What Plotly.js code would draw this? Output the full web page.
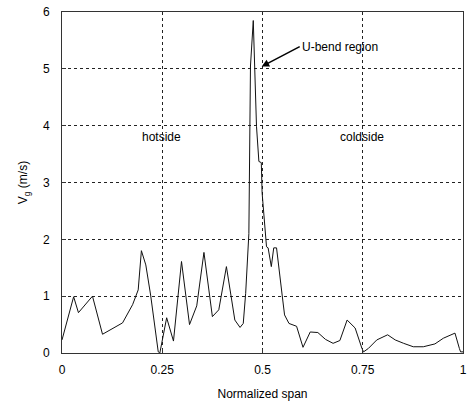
<!DOCTYPE html>
<html>
<head>
<meta charset="utf-8">
<script src="https://cdn.plot.ly/plotly-3.0.1.min.js"></script>
<style>html,body{margin:0;padding:0;background:#fff;}#chart{width:470px;height:401px;}</style>
</head>
<body>
<div id="chart"></div>
<script>
const span = [0, 0.029, 0.041, 0.076, 0.101, 0.151, 0.176, 0.19, 0.198, 0.209, 0.221, 0.24, 0.244,
  0.261, 0.278, 0.298, 0.318, 0.336, 0.354, 0.375, 0.391, 0.41, 0.431, 0.444, 0.452, 0.458, 0.466,
  0.47, 0.477, 0.48, 0.485, 0.491, 0.497, 0.499, 0.503, 0.51, 0.514, 0.522, 0.528, 0.535, 0.549,
  0.555, 0.566, 0.585, 0.601, 0.619, 0.638, 0.657, 0.676, 0.693, 0.711, 0.731, 0.748, 0.752, 0.764,
  0.785, 0.812, 0.831, 0.852, 0.876, 0.901, 0.93, 0.951, 0.98, 0.991, 0.994, 1.0];
const vg = [0.23, 0.99, 0.71, 1.0, 0.33, 0.53, 0.85, 1.11, 1.80, 1.55, 1.02, 0.02, 0.0,
  0.62, 0.21, 1.61, 0.50, 0.83, 1.77, 0.64, 0.76, 1.52, 0.58, 0.45, 0.52, 1.05, 2.1,
  5.05, 5.85, 5.11, 3.99, 3.37, 3.35, 2.82, 2.46, 1.87, 1.85, 1.52, 1.85, 1.85, 1.02,
  0.67, 0.52, 0.47, 0.10, 0.37, 0.36, 0.24, 0.17, 0.22, 0.58, 0.44, 0.08, 0.02, 0.08,
  0.23, 0.32, 0.23, 0.17, 0.11, 0.11, 0.16, 0.26, 0.35, 0.08, 0.02, 0.02];
const xTicks = [0, 0.25, 0.5, 0.75, 1];
const xTickText = ['0', '0.25', '0.5', '0.75', '1'];
const yTicks = [0, 1, 2, 3, 4, 5, 6];
const regionLabels = ['hotside', 'coldside'];
const regionX = [0.249, 0.749];
const regionY = [3.8, 3.8];

const font = {family: 'Liberation Sans, Arial, sans-serif', size: 12, color: '#000'};
const annotations = regionLabels.map((t, i) => ({
  x: regionX[i], y: regionY[i], xref: 'x', yref: 'y', text: t, showarrow: false,
  font: font, xanchor: 'center', yanchor: 'middle'
}));
annotations.push({
  x: 0.498, y: 5.04, xref: 'x', yref: 'y', text: 'U-bend region',
  showarrow: true, arrowhead: 2, arrowsize: 1, arrowwidth: 1.5, arrowcolor: '#000',
  ax: 38, ay: -20, xanchor: 'left', yanchor: 'middle', font: font, standoff: 0
});

Plotly.newPlot('chart', [{
  x: span, y: vg, type: 'scatter', mode: 'lines',
  line: {color: '#111', width: 1}, hoverinfo: 'skip'
}], {
  width: 470, height: 401,
  margin: {l: 62, r: 7, t: 12, b: 48},
  paper_bgcolor: '#fff', plot_bgcolor: '#fff',
  showlegend: false,
  font: font,
  xaxis: {
    range: [0, 1], tickvals: xTicks, ticktext: xTickText,
    showgrid: true, gridcolor: '#222', gridwidth: 1, griddash: 'dot',
    zeroline: false, showline: true, linecolor: '#333', linewidth: 1, mirror: true,
    ticks: 'inside', ticklen: 4, tickcolor: '#333',
    ticklabelstandoff: 6,
    title: {text: 'Normalized span', font: font, standoff: 13}
  },
  yaxis: {
    range: [0, 6], tickvals: yTicks,
    showgrid: true, gridcolor: '#222', gridwidth: 1, griddash: 'dot',
    zeroline: false, showline: true, linecolor: '#333', linewidth: 1, mirror: true,
    ticks: 'inside', ticklen: 4, tickcolor: '#333',
    ticklabelstandoff: 9,
    title: {text: 'V<sub>g</sub> (m/s)', font: font, standoff: 12}
  },
  annotations: annotations
}, {displayModeBar: false, staticPlot: true});
</script>
</body>
</html>
